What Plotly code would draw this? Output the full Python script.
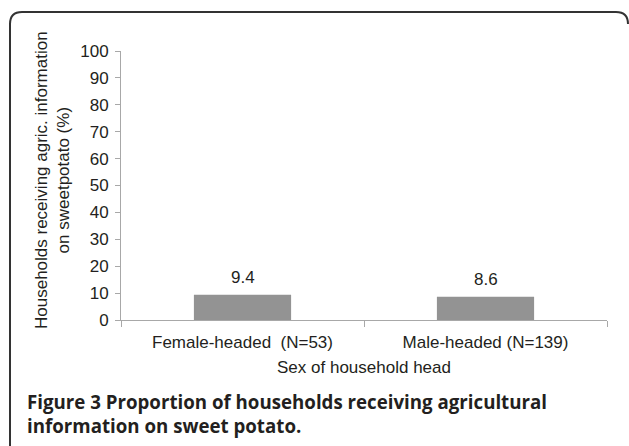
import plotly.graph_objects as go

categories = ["Female-headed  (N=53)", "Male-headed (N=139)"]
values = [9.4, 8.6]
y_ticks = [0, 10, 20, 30, 40, 50, 60, 70, 80, 90, 100]

W, H = 629, 446
L, R, T, B = 121, 22, 51, 126
pw, ph = W - L - R, H - T - B

def px(x):
    return (x - L) / pw

def py(y):
    return (H - B - y) / ph

fig = go.Figure(go.Bar(
    x=categories, y=values,
    marker=dict(color="#939393", line=dict(width=0)),
    width=0.4,
))

for c, v in zip(categories, values):
    fig.add_annotation(x=c, y=v, text=f"{v:.1f}", showarrow=False,
                       yanchor="bottom", yshift=6,
                       font=dict(size=17, color="#231f20"))

axis_col = "#a8a8a8"
fig.update_layout(
    width=W, height=H,
    margin=dict(l=L, r=R, t=T, b=B, autoexpand=False),
    paper_bgcolor="white", plot_bgcolor="white",
    font=dict(family="Liberation Sans, Arial", size=17, color="#231f20"),
    showlegend=False,
    xaxis=dict(showline=True, linecolor=axis_col, linewidth=1,
               ticks="outside", ticklen=6, tickcolor=axis_col, tickwidth=1,
               tickson="boundaries", showgrid=False, ticklabelstandoff=7,
               title=dict(text="Sex of household head", standoff=9,
                          font=dict(size=17))),
    yaxis=dict(range=[0, 100], tickvals=y_ticks, showline=True, linecolor=axis_col,
               linewidth=1, ticks="outside", ticklen=5, tickcolor=axis_col,
               tickwidth=1, showgrid=False, zeroline=False, ticklabelstandoff=3),
    bargap=0.6,
)

fig.add_annotation(
    text="Households receiving agric. information<br>on sweetpotato (%)",
    xref="paper", yref="paper", x=px(52), y=py(180), textangle=-90,
    showarrow=False, font=dict(size=17), xanchor="center", yanchor="middle",
)

fig.add_annotation(
    text="<b>Figure 3</b> <b>Proportion of households receiving agricultural<br>information on sweet potato.</b>",
    xref="paper", yref="paper", x=px(25), y=py(387), xanchor="left", yanchor="top",
    align="left", showarrow=False,
    font=dict(family="Open Sans", size=18.7, color="#231f20"),
)

# rounded frame
x0, y0, x1, y1, r = 10, 12, 628, 460, 12
path = (f"M {px(x0)},{py(y1)} L {px(x0)},{py(y0 + r)} "
        f"Q {px(x0)},{py(y0)} {px(x0 + r)},{py(y0)} "
        f"L {px(x1 - r)},{py(y0)} Q {px(x1)},{py(y0)} {px(x1)},{py(y0 + r)}")
fig.add_shape(type="path", path=path, xref="paper", yref="paper",
              line=dict(color="#333333", width=2))

fig.write_html("out.html", config={"displayModeBar": False},
               post_script="document.body.style.margin='0';document.body.style.overflow='hidden';")
